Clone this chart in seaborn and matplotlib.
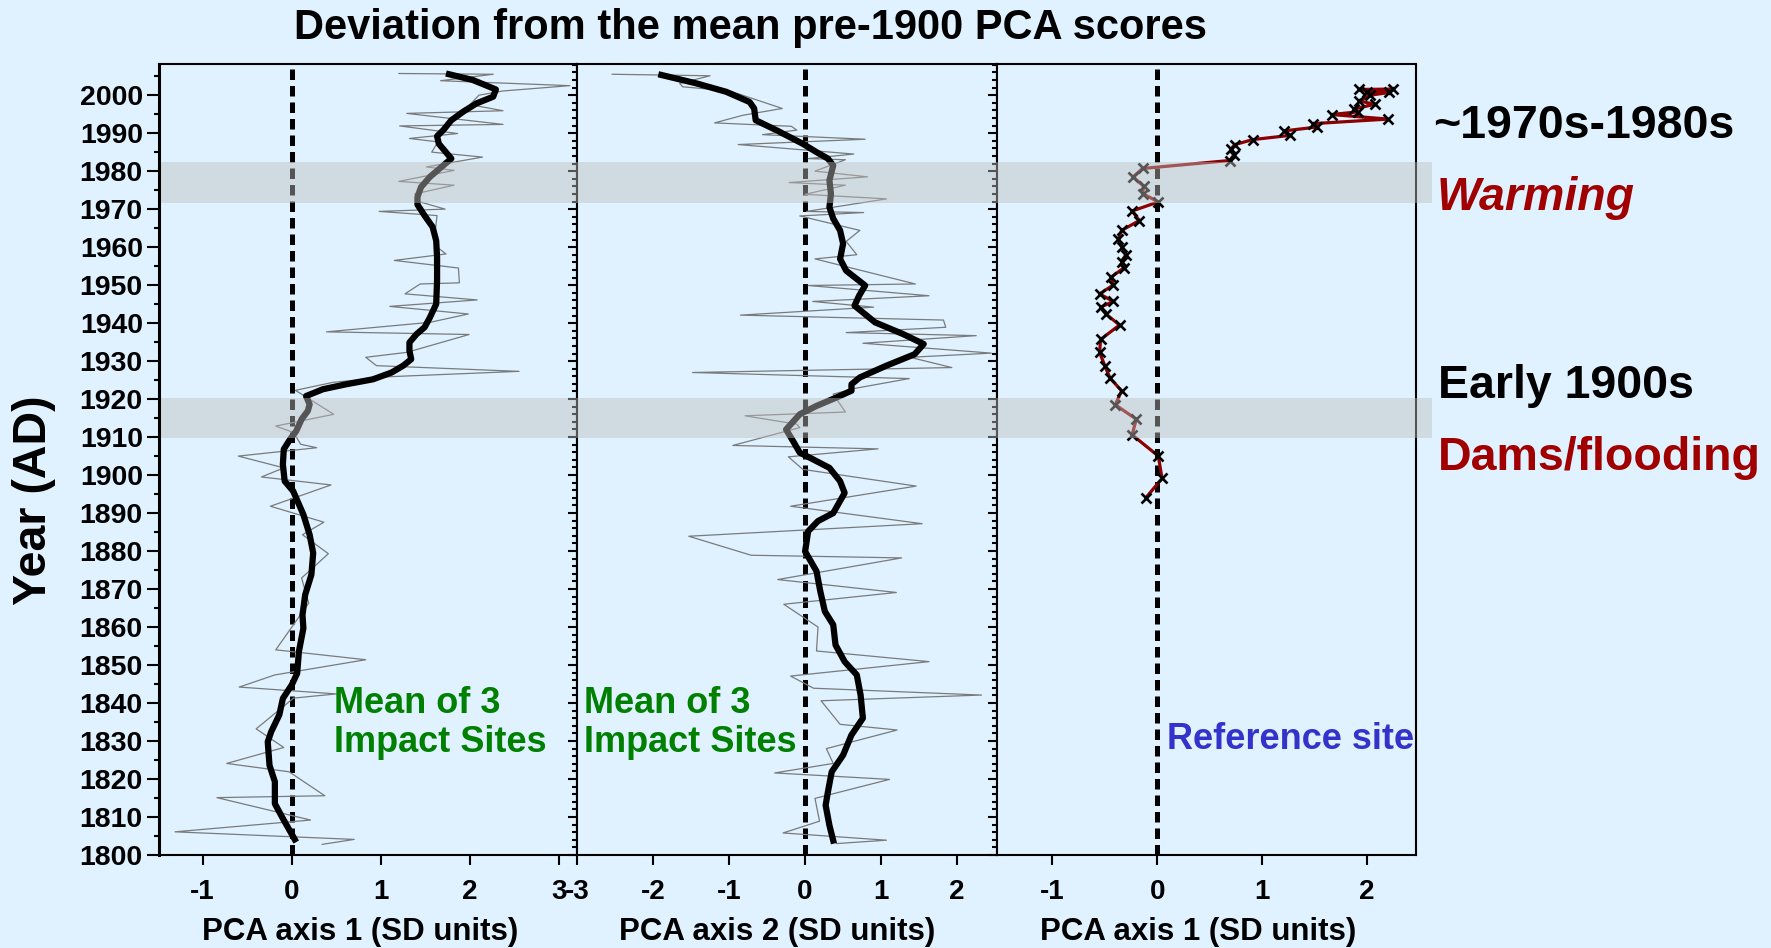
import matplotlib
matplotlib.use("Agg")
import matplotlib.pyplot as plt
import matplotlib.transforms as mtransforms
from matplotlib.patches import Rectangle
from matplotlib.ticker import MultipleLocator
import pandas as pd
import seaborn as sns

# ---------------- data ----------------
# Impact sites, PCA axis 1: annual scores (thin) and smoothed mean (thick)
ax1_raw_year = [2005.7, 2005.5, 2003.8, 2002.5, 2001.1, 2000.0, 1997.5, 1995.9, 1995.2, 1992.3,
                1991.9, 1989.9, 1988.6, 1987.7, 1985.0, 1983.7, 1981.1, 1980.2, 1977.3, 1976.3,
                1974.0, 1971.9, 1970.0, 1969.4, 1968.3, 1964.4, 1960.0, 1958.2, 1956.5, 1954.5,
                1950.6, 1950.3, 1947.7, 1946.1, 1944.4, 1942.4, 1940.2, 1937.7, 1937.0, 1932.3,
                1931.0, 1928.8, 1927.3, 1925.9, 1924.4, 1922.3, 1921.0, 1916.0, 1912.9, 1911.2,
                1908.1, 1907.2, 1905.0, 1901.9, 1899.5, 1897.4, 1891.8, 1887.6, 1884.3, 1879.3,
                1872.9, 1866.3, 1854.0, 1851.4, 1847.4, 1844.2, 1842.4, 1841.3, 1833.2, 1828.3,
                1824.1, 1821.9, 1815.6, 1815.1, 1809.2, 1806.1, 1804.1, 1802.8]
ax1_raw_score = [1.20, 2.26, 1.67, 3.12, 2.37, 2.10, 2.00, 2.37, 1.29, 2.37,
                 1.21, 1.86, 1.32, 1.64, 1.57, 2.14, 1.51, 1.82, 1.20, 1.82,
                 1.38, 1.44, 1.72, 0.98, 1.63, 1.61, 1.63, 1.73, 1.15, 1.87,
                 1.88, 1.44, 1.27, 2.08, 1.10, 1.98, 1.55, 0.39, 1.99, 1.29,
                 0.83, 0.95, 2.55, 1.10, 0.46, 0.04, 0.13, 0.47, -0.18, 0.02,
                 0.10, 0.28, -0.60, -0.09, -0.34, 0.44, -0.24, 0.36, 0.12, 0.41,
                 0.11, 0.19, -0.18, 0.83, -0.19, -0.59, 0.50, 0.02, -0.40, -0.09,
                 -0.73, -0.03, 0.37, -0.84, 0.21, -1.31, 0.70, 0.34]
ax1_mean_year = [2005.7, 2004.0, 2001.5, 1999.6, 1997.8, 1995.6, 1993.4, 1990.8, 1989.2, 1987.2,
                 1983.3, 1981.5, 1978.5, 1975.8, 1973.2, 1971.2, 1968.3, 1965.3, 1961.7, 1957.3,
                 1951.2, 1945.0, 1941.5, 1938.9, 1937.1, 1934.9, 1932.7, 1930.5, 1928.8, 1927.0,
                 1925.2, 1923.9, 1922.6, 1920.8, 1918.6, 1916.9, 1914.7, 1911.6, 1909.4, 1906.8,
                 1902.8, 1898.4, 1895.8, 1889.6, 1884.3, 1879.5, 1873.8, 1868.5, 1863.2, 1859.7,
                 1853.6, 1847.8, 1844.8, 1841.2, 1836.9, 1832.5, 1829.8, 1823.6, 1819.3, 1813.5,
                 1809.6, 1803.4]
ax1_mean_score = [1.73, 2.03, 2.29, 2.26, 2.07, 1.92, 1.79, 1.70, 1.63, 1.65,
                  1.79, 1.70, 1.55, 1.45, 1.41, 1.41, 1.49, 1.58, 1.62, 1.63,
                  1.63, 1.62, 1.55, 1.49, 1.40, 1.32, 1.32, 1.34, 1.25, 1.12,
                  0.91, 0.61, 0.35, 0.16, 0.20, 0.18, 0.11, 0.05, -0.02, -0.09,
                  -0.10, -0.08, 0.015, 0.13, 0.20, 0.24, 0.22, 0.15, 0.12, 0.13,
                  0.08, 0.06, 0.00, -0.10, -0.14, -0.23, -0.27, -0.25, -0.19, -0.19,
                  -0.10, 0.05]

# Impact sites, PCA axis 2
ax2_raw_year = [2005.5, 2005.1, 2003.1, 2002.2, 2001.1, 1996.5, 1994.7, 1992.7, 1991.8, 1990.8,
                1989.6, 1988.4, 1987.0, 1984.5, 1983.3, 1983.0, 1980.0, 1978.5, 1977.0, 1976.3,
                1973.9, 1972.7, 1969.4, 1969.1, 1968.2, 1964.4, 1961.5, 1958.0, 1956.9, 1950.3,
                1949.9, 1947.2, 1945.7, 1944.2, 1942.1, 1940.8, 1938.9, 1937.5, 1936.7, 1934.7,
                1932.1, 1931.0, 1928.3, 1927.0, 1925.4, 1922.8, 1921.3, 1916.6, 1915.6, 1913.4,
                1912.5, 1907.8, 1906.9, 1904.8, 1901.5, 1897.1, 1891.8, 1887.2, 1883.9, 1878.9,
                1878.2, 1872.5, 1869.1, 1866.0, 1860.0, 1853.7, 1850.9, 1847.1, 1843.9, 1842.1,
                1840.6, 1834.4, 1832.9, 1828.0, 1824.1, 1821.6, 1819.9, 1814.9, 1808.9, 1805.8,
                1803.9, 1803.0]
ax2_raw_score = [-2.54, -1.25, -1.65, -1.61, -0.99, -0.30, -0.82, -1.19, -0.18, -0.11,
                 -0.56, 0.79, -0.88, 0.64, 0.04, 0.53, 0.13, 0.82, -0.21, 0.53,
                 0.00, 1.07, 0.02, 0.77, -0.07, 0.72, 0.54, 0.68, 0.13, 1.45,
                 0.04, 1.63, 0.10, 0.90, -0.85, 1.82, 1.85, 0.54, 2.25, 0.76,
                 2.45, 1.38, 1.93, -1.48, 1.37, 0.65, 0.37, 0.53, -0.79, -0.11,
                 -0.07, -0.95, 0.96, -0.22, -0.03, 1.46, -0.19, 1.54, -1.53, -0.71,
                 1.27, -0.36, 1.20, -0.28, 0.17, 0.15, 1.63, -0.19, 0.11, 2.32,
                 0.21, 0.46, 1.21, 0.28, 0.37, -0.40, 1.11, 0.13, 0.19, -0.29,
                 1.07, 0.41]
ax2_mean_year = [2005.5, 2003.1, 2000.9, 1998.2, 1996.5, 1993.4, 1990.8, 1987.2, 1985.0, 1983.3,
                 1981.5, 1977.6, 1974.0, 1970.5, 1967.5, 1964.4, 1960.9, 1956.9, 1953.8, 1949.9,
                 1947.2, 1944.6, 1940.2, 1937.1, 1934.5, 1931.8, 1928.8, 1925.7, 1923.9, 1922.2,
                 1920.4, 1918.2, 1916.0, 1912.0, 1909.0, 1905.9, 1904.6, 1901.9, 1898.4, 1895.3,
                 1890.0, 1887.9, 1885.2, 1879.9, 1874.7, 1869.4, 1864.1, 1860.6, 1855.3, 1850.9,
                 1847.4, 1842.1, 1836.0, 1831.6, 1826.3, 1821.9, 1816.6, 1813.1, 1807.8, 1803.0]
ax2_mean_score = [-1.93, -1.43, -1.04, -0.73, -0.67, -0.65, -0.38, -0.03, 0.15, 0.30,
                  0.37, 0.32, 0.34, 0.32, 0.37, 0.46, 0.50, 0.46, 0.54, 0.79,
                  0.71, 0.65, 0.92, 1.29, 1.56, 1.44, 1.07, 0.72, 0.61, 0.61,
                  0.41, 0.15, -0.07, -0.25, -0.16, -0.07, 0.06, 0.32, 0.46, 0.52,
                  0.37, 0.17, 0.04, 0.00, 0.15, 0.20, 0.26, 0.37, 0.40, 0.52,
                  0.68, 0.73, 0.76, 0.61, 0.50, 0.35, 0.30, 0.27, 0.32, 0.38]

# Reference site, PCA axis 1
ref_year = [2001.6, 2001.5, 2000.9, 2000.7, 2000.0, 1998.5, 1997.6, 1996.3, 1995.6, 1994.9,
            1993.7, 1992.5, 1991.6, 1990.6, 1989.4, 1988.3, 1987.0, 1985.8, 1984.3, 1982.8,
            1980.7, 1978.5, 1976.0, 1974.1, 1971.9, 1969.5, 1967.0, 1964.4, 1962.2, 1960.0,
            1958.0, 1956.2, 1954.5, 1952.1, 1950.0, 1947.7, 1945.7, 1944.2, 1942.4, 1939.5,
            1935.7, 1932.3, 1928.8, 1925.5, 1922.2, 1918.5, 1914.7, 1910.6, 1905.0, 1899.1,
            1894.0]
ref_score = [2.25, 1.92, 2.00, 2.21, 2.03, 1.92, 2.07, 1.87, 1.91, 1.66,
             2.20, 1.48, 1.52, 1.21, 1.26, 0.91, 0.74, 0.70, 0.73, 0.69,
             -0.14, -0.23, -0.13, -0.14, 0.01, -0.24, -0.17, -0.34, -0.37, -0.34,
             -0.30, -0.34, -0.32, -0.44, -0.42, -0.55, -0.42, -0.54, -0.49, -0.36,
             -0.54, -0.55, -0.50, -0.45, -0.34, -0.40, -0.20, -0.24, 0.01, 0.045,
             -0.11]

# Highlighted periods (years AD)
band_start = [1909.7, 1971.6]
band_end = [1920.4, 1982.3]

year_ticks = list(range(1800, 2001, 10))
ax1_xticks = [-1, 0, 1, 2, 3]
ax2_xticks = [-3, -2, -1, 0, 1, 2]
ax3_xticks = [-1, 0, 1, 2]

# ---------------- style ----------------
BG = "#E0F2FF"
sns.set_theme(style="ticks")
plt.rcParams.update({
    "font.family": ["Liberation Sans", "DejaVu Sans"],
    "font.weight": "bold",
    "axes.labelweight": "bold",
    "axes.unicode_minus": False,
    "axes.facecolor": BG,
    "figure.facecolor": BG,
    "axes.edgecolor": "black",
    "axes.linewidth": 1.5,
    "text.color": "black",
    "axes.labelcolor": "black",
    "xtick.color": "black",
    "ytick.color": "black",
})

W, H = 1771, 948
fig = plt.figure(figsize=(W / 100, H / 100), dpi=100)


def frame(left, right, top=64, bottom=855):
    return [left / W, 1 - bottom / H, (right - left) / W, (bottom - top) / H]


ax1 = fig.add_axes(frame(159, 577))
ax2 = fig.add_axes(frame(577, 996.7))
ax3 = fig.add_axes(frame(996.7, 1415.5))

YLIM = (1800, 2008.2)

# thin annual series + thick smoothed mean
sns.lineplot(x=ax1_raw_score, y=ax1_raw_year, ax=ax1, sort=False, estimator=None,
             color="#7A7A7A", lw=0.9)
sns.lineplot(x=ax1_mean_score, y=ax1_mean_year, ax=ax1, sort=False, estimator=None,
             color="black", lw=4.5, solid_joinstyle="round", solid_capstyle="butt")
sns.lineplot(x=ax2_raw_score, y=ax2_raw_year, ax=ax2, sort=False, estimator=None,
             color="#7A7A7A", lw=0.9)
sns.lineplot(x=ax2_mean_score, y=ax2_mean_year, ax=ax2, sort=False, estimator=None,
             color="black", lw=4.5, solid_joinstyle="round", solid_capstyle="butt")
sns.lineplot(x=ref_score, y=ref_year, ax=ax3, sort=False, estimator=None,
             color="#8B0000", lw=2.3, marker="x", markersize=7.5,
             markeredgecolor="black", markeredgewidth=1.9)

for ax, xl, xt in [(ax1, (-1.49, 3.2), ax1_xticks),
                   (ax2, (-3.0, 2.52), ax2_xticks),
                   (ax3, (-1.53, 2.46), ax3_xticks)]:
    ax.axvline(0, color="black", lw=3.6, dashes=(2.1, 1.2), zorder=1.5)
    ax.set_xlim(*xl)
    ax.set_ylim(*YLIM)
    ax.set_xticks(xt)
    ax.set_xticklabels([str(v) for v in xt])
    ax.tick_params(axis="x", which="both", direction="out", length=7, width=1.5,
                   pad=10, labelsize=20, top=False, bottom=True)
    ax.yaxis.set_major_locator(MultipleLocator(10))
    ax.tick_params(axis="y", which="both", direction="out", right=False, left=True,
                   width=1.5)
    ax.tick_params(axis="y", which="major", length=8.5)
    ax.tick_params(axis="y", which="minor", length=3.6)
    for sp in ax.spines.values():
        sp.set_visible(True)
        sp.set_linewidth(1.5)
    ax.set_ylabel("")

ax1.set_yticks(year_ticks)
ax1.set_yticklabels([str(y) for y in year_ticks])
ax1.yaxis.set_minor_locator(MultipleLocator(5))
ax1.tick_params(axis="y", which="major", labelsize=20.5, pad=3.2)
ax1.spines["left"].set_linewidth(2.2)
for ax in (ax2, ax3):
    ax.yaxis.set_minor_locator(MultipleLocator(2))
    ax.tick_params(axis="y", which="major", length=6.8, labelleft=False)
    ax.tick_params(axis="y", which="minor", length=3.6)

for ax, txt, lx in [(ax1, "PCA axis 1 (SD units)", 0.481),
                    (ax2, "PCA axis 2 (SD units)", 0.4766),
                    (ax3, "PCA axis 1 (SD units)", 0.4805)]:
    ax.set_xlabel(txt, fontsize=22.5, fontweight="bold", va="center")
    ax.xaxis.set_label_coords(lx, -0.0973)

# in-panel labels (y = baseline of the last line)
site_green = "#008000"
ax1.text(0.47, 1827.2, "Mean of 3\nImpact Sites", color=site_green, fontsize=26,
         fontweight="bold", ha="left", va="baseline", linespacing=1.15)
ax2.text(-2.91, 1827.2, "Mean of 3\nImpact Sites", color=site_green, fontsize=26,
         fontweight="bold", ha="left", va="baseline", linespacing=1.15)
ax3.text(0.09, 1828.0, "Reference site", color="#3333CC", fontsize=26,
         fontweight="bold", ha="left", va="baseline")

# translucent bands across all three panels
band_trans = mtransforms.blended_transform_factory(fig.transFigure, ax1.transData)
for lo, hi in zip(band_start, band_end):
    fig.add_artist(Rectangle((161 / W, lo), (1432 - 161) / W, hi - lo,
                             transform=band_trans, facecolor="#BDBDBD", alpha=0.45,
                             edgecolor="none", zorder=10))

# titles and annotations
fig.text(751 / W, 1 - 39 / H, "Deviation from the mean pre-1900 PCA scores",
         ha="center", va="baseline", fontsize=30, fontweight="bold")
fig.text(34 / W, 1 - 500 / H, "Year (AD)", rotation=90, ha="center", va="center",
         fontsize=33.5, fontweight="bold")

dark_red = "#A00000"
fig.text(1433 / W, 1 - 138 / H, "~1970s-1980s", ha="left", va="baseline",
         fontsize=33.5, fontweight="bold")
fig.text(1437 / W, 1 - 210 / H, "Warming", ha="left", va="baseline",
         fontsize=33.5, fontweight="bold", fontstyle="italic", color=dark_red)
fig.text(1438 / W, 1 - 398 / H, "Early 1900s", ha="left", va="baseline",
         fontsize=33.5, fontweight="bold")
fig.text(1438 / W, 1 - 470 / H, "Dams/flooding", ha="left", va="baseline",
         fontsize=33.5, fontweight="bold", color=dark_red)

fig.savefig("out.png", dpi=100, facecolor=BG)
